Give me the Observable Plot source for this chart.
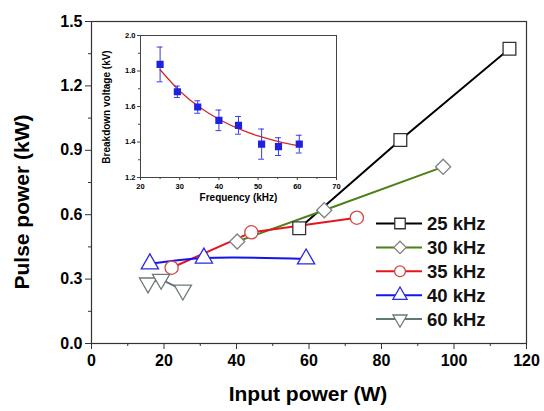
<!DOCTYPE html>
<html><head><meta charset="utf-8">
<script src="https://cdn.jsdelivr.net/npm/d3@7"></script>
<script src="https://cdn.jsdelivr.net/npm/@observablehq/plot@0.6"></script>
<style>
body{margin:0;background:#fff}
#wrap{position:relative;width:544px;height:411px}
#wrap svg{position:absolute;left:0;top:0}
</style>
</head><body><div id="wrap"></div>
<script>
// ---- main chart data ----
const seriesNames = ["25 kHz", "30 kHz", "35 kHz", "40 kHz", "60 kHz"];
const input25 = [57.3, 85.2, 115.3];  const pulse25 = [0.537, 0.948, 1.373];
const input30 = [40.2, 64.2, 97.0];   const pulse30 = [0.475, 0.621, 0.823];
const input35 = [22.1, 44.1, 73.2];   const pulse35 = [0.353, 0.518, 0.586];
const input40 = [16.1, 31.0, 59.2];   const pulse40 = [0.371, 0.398, 0.394];
const input60 = [15.6, 19.2, 25.2];   const pulse60 = [0.282, 0.299, 0.249];
const xTicks = [0, 20, 40, 60, 80, 100, 120];
const xMinor = [10, 30, 50, 70, 90, 110];
const yTicks = [0, 0.3, 0.6, 0.9, 1.2, 1.5];
const yMinor = [0.15, 0.45, 0.75, 1.05, 1.35];

// ---- inset data ----
const freq = [25, 29.4, 34.6, 40.0, 45.0, 50.9, 55.2, 60.5];
const volt = [1.837, 1.683, 1.597, 1.522, 1.494, 1.388, 1.374, 1.388];
const verr = [0.098, 0.032, 0.035, 0.058, 0.05, 0.085, 0.05, 0.05];
const fitFreq = [25, 30, 35, 40, 45, 50, 55, 60.5];
const fitVolt = [1.807, 1.687, 1.597, 1.528, 1.475, 1.434, 1.404, 1.378];
const fTicks = [20, 30, 40, 50, 60, 70];
const fMinor = [25, 35, 45, 55, 65];
const vTicks = [1.2, 1.4, 1.6, 1.8, 2.0];
const vMinor = [1.3, 1.5, 1.7, 1.9];

const triDown = {draw(ctx, size){
  const y = -Math.sqrt(size / (Math.sqrt(3) * 3));
  ctx.moveTo(0, -2 * y);
  ctx.lineTo(-Math.sqrt(3) * y, y);
  ctx.lineTo(Math.sqrt(3) * y, y);
  ctx.closePath();
}};

const styles = {
  "25 kHz": {line: "#000000", mark: "#333333", symbol: "square", r: 7.2},
  "30 kHz": {line: "#4f7f1a", mark: "#808080", symbol: "diamond2", r: 6.8},
  "35 kHz": {line: "#e8141c", mark: "#d04848", symbol: "circle", r: 6.6},
  "40 kHz": {line: "#1414f0", mark: "#2828e0", symbol: "triangle", r: 6.4},
  "60 kHz": {line: "#5f7878", mark: "#707878", symbol: triDown, r: 6.4}
};
const xs = [input25, input30, input35, input40, input60];
const ys = [pulse25, pulse30, pulse35, pulse40, pulse60];
const table = seriesNames.map((s, i) => xs[i].map((x, j) => ({s, x, y: ys[i][j]})));

const font = "'Liberation Sans', Arial, sans-serif";
const lineMarks = table.map((d, i) => Plot.line(d, {x: "x", y: "y", stroke: styles[seriesNames[i]].line, strokeWidth: 2,
  curve: seriesNames[i] === "40 kHz" ? "catmull-rom" : "linear"}));
const dotMarks = table.map((d, i) => {
  const st = styles[seriesNames[i]];
  return Plot.dot(d, {x: "x", y: "y", symbol: st.symbol, r: st.r, fill: "white", stroke: st.mark, strokeWidth: 1.3});
});

const main = Plot.plot({
  width: 544, height: 411,
  marginLeft: 91, marginRight: 18, marginTop: 21, marginBottom: 68,
  x: {domain: [0, 120]}, y: {domain: [0, 1.5]},
  style: {fontFamily: font, background: "transparent", color: "#000"},
  marks: [
    Plot.frame({stroke: "#333", strokeWidth: 1.2}),
    Plot.axisY(yTicks, {tickSize: 6, tickPadding: 3, fontSize: 16, fontWeight: "bold", label: null, tickFormat: d => d.toFixed(1), stroke: "#333"}),
    Plot.axisY(yMinor, {tickSize: 3, text: null, label: null, stroke: "#333"}),
    Plot.axisX(xTicks, {tickSize: 6, tickPadding: 5, fontSize: 16, fontWeight: "bold", label: null, stroke: "#333"}),
    Plot.axisX(xMinor, {tickSize: 3, text: null, label: null, stroke: "#333"}),
    ...lineMarks,
    ...dotMarks
  ]
});

const svg = d3.select(main);
svg.append("text").attr("x", 308).attr("y", 401).attr("text-anchor", "middle")
  .attr("font-family", font).attr("font-weight", "bold").attr("font-size", 21).text("Input power (W)");
svg.append("text").attr("transform", "translate(29,202) rotate(-90)").attr("text-anchor", "middle")
  .attr("font-family", font).attr("font-weight", "bold").attr("font-size", 21).text("Pulse power (kW)");

// legend
const leg = svg.append("g");
seriesNames.forEach((s, i) => {
  const st = styles[s];
  const y = 223.5 + i * 23.9;
  leg.append("line").attr("x1", 376).attr("x2", 422).attr("y1", y).attr("y2", y).attr("stroke", st.line).attr("stroke-width", 2);
  const sym = typeof st.symbol === "string"
    ? {square: d3.symbolSquare, diamond2: d3.symbolDiamond2, circle: d3.symbolCircle, triangle: d3.symbolTriangle}[st.symbol]
    : st.symbol;
  const rr = st.r * 0.82;
  leg.append("path").attr("transform", `translate(400,${y})`).attr("d", d3.symbol(sym, Math.PI * rr * rr)())
    .attr("fill", "white").attr("stroke", st.mark).attr("stroke-width", 1.3);
  leg.append("text").attr("x", 427).attr("y", y + 6.5).attr("text-anchor", "start").attr("font-family", font).attr("font-weight", "bold")
    .attr("font-size", 18.5).attr("fill", "#111").text(s);
});

// ---- inset ----
const insetData = freq.map((f, i) => ({f, v: volt[i], lo: volt[i] - verr[i], hi: volt[i] + verr[i], fl: f - 0.75, fr: f + 0.75}));
const fitData = fitFreq.map((f, i) => ({f, v: fitVolt[i]}));
const inset = Plot.plot({
  width: 544, height: 411,
  marginLeft: 140, marginRight: 208, marginTop: 35, marginBottom: 234,
  x: {type: "linear", domain: [20, 70]}, y: {type: "linear", domain: [1.2, 2.0]},
  style: {fontFamily: font, background: "transparent", color: "#000"},
  marks: [
    Plot.frame({fill: "white", stroke: "#444", strokeWidth: 1}),
    Plot.axisY(vTicks, {tickSize: 3, tickPadding: 2, fontSize: 7.5, fontWeight: "bold", label: null, tickFormat: d => d.toFixed(1), stroke: "#444"}),
    Plot.axisY(vMinor, {tickSize: 2, text: null, label: null, stroke: "#444"}),
    Plot.axisX(fTicks, {tickSize: 3, tickPadding: 3, fontSize: 7.5, fontWeight: "bold", label: null, stroke: "#444"}),
    Plot.axisX(fMinor, {tickSize: 2, text: null, label: null, stroke: "#444"}),
    Plot.line(fitData, {x: "f", y: "v", stroke: "#d42a2a", strokeWidth: 1.3, curve: "natural"}),
    Plot.ruleX(insetData, {x: "f", y1: "lo", y2: "hi", stroke: "#3a3aee", strokeWidth: 1}),
    Plot.ruleY(insetData, {y: "lo", x1: "fl", x2: "fr", stroke: "#3a3aee", strokeWidth: 1}),
    Plot.ruleY(insetData, {y: "hi", x1: "fl", x2: "fr", stroke: "#3a3aee", strokeWidth: 1}),
    Plot.dot(insetData, {x: "f", y: "v", symbol: "square", r: 3.2, fill: "#2020e0", stroke: "#2020e0"})
  ]
});
const isvg = d3.select(inset);
isvg.append("text").attr("x", 238.5).attr("y", 201).attr("text-anchor", "middle")
  .attr("font-family", font).attr("font-weight", "bold").attr("font-size", 10).text("Frequency (kHz)");
isvg.append("text").attr("transform", "translate(110,107) rotate(-90)").attr("text-anchor", "middle")
  .attr("font-family", font).attr("font-weight", "bold").attr("font-size", 10).text("Breakdown voltage (kV)");

document.getElementById("wrap").append(main, inset);
</script>
</body></html>
